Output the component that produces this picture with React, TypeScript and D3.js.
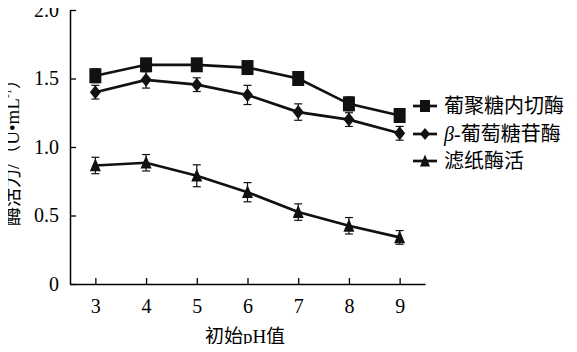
import React, { useEffect, useRef } from 'react';
import * as d3 from 'd3';

const phValues = [3, 4, 5, 6, 7, 8, 9];
const yTicks = [0, 0.5, 1.0, 1.5, 2.0];

const endoglucanase = [1.52, 1.6, 1.6, 1.58, 1.5, 1.315, 1.23];
const endoglucanaseErr = [0.05, 0.04, 0.03, 0.03, 0.05, 0.05, 0.05];
const betaGlucosidase = [1.4, 1.49, 1.455, 1.38, 1.255, 1.2, 1.1];
const betaGlucosidaseErr = [0.05, 0.06, 0.05, 0.07, 0.06, 0.05, 0.05];
const filterPaper = [0.865, 0.885, 0.79, 0.67, 0.525, 0.425, 0.34];
const filterPaperErr = [0.06, 0.06, 0.08, 0.07, 0.06, 0.06, 0.05];

const seriesNames = ['葡聚糖内切酶', 'β-葡萄糖苷酶', '滤纸酶活'];

const FONT = '"Liberation Serif", "Times New Roman", "Noto Sans CJK SC", serif';

type Shape = 'square' | 'diamond' | 'triangle';

// w, h = marker width / height in px
const markerPath = (shape: Shape, w: number, h: number) => {
  if (shape === 'square') return `M${-w / 2},${-h / 2}H${w / 2}V${h / 2}H${-w / 2}Z`;
  if (shape === 'diamond') return `M0,${-h / 2}L${w / 2},0L0,${h / 2}L${-w / 2},0Z`;
  return `M0,${-h * 0.55}L${w / 2},${h * 0.45}L${-w / 2},${h * 0.45}Z`;
};

const markerSize: Record<Shape, [number, number]> = {
  square: [12, 15],
  diamond: [11, 14],
  triangle: [11, 13],
};

export default function App() {
  const svgRef = useRef<SVGSVGElement>(null);

  useEffect(() => {
    if (!svgRef.current) return;
    const svg = d3.select(svgRef.current);
    svg.selectAll('*').remove();

    const x = d3.scaleLinear().domain([2.5, 9.5]).range([70, 425]);
    const y = d3.scaleLinear().domain([0, 2]).range([284, 10]);

    const series = [
      { name: seriesNames[0], vals: endoglucanase, err: endoglucanaseErr, shape: 'square' as Shape },
      { name: seriesNames[1], vals: betaGlucosidase, err: betaGlucosidaseErr, shape: 'diamond' as Shape },
      { name: seriesNames[2], vals: filterPaper, err: filterPaperErr, shape: 'triangle' as Shape },
    ];

    // axes
    const xAxis = svg.append('g')
      .attr('transform', `translate(0,${y(0)})`)
      .call(d3.axisBottom(x).tickValues(phValues).tickSizeInner(-6).tickSizeOuter(0).tickPadding(15).tickFormat(d3.format('d')));
    xAxis.select('.domain').attr('stroke', '#000').attr('stroke-width', 1.5);
    xAxis.selectAll('line').attr('stroke', '#000').attr('stroke-width', 1.3);
    xAxis.selectAll('text').attr('font-family', FONT).attr('font-size', 20).attr('fill', '#000');

    const yAxis = svg.append('g')
      .attr('transform', `translate(${x(2.5)},0)`)
      .call(d3.axisLeft(y).tickValues(yTicks).tickSizeInner(-6).tickSizeOuter(0).tickPadding(11)
        .tickFormat(d => (d === 0 ? '0' : d3.format('.1f')(d as number))));
    yAxis.select('.domain').attr('stroke', '#000').attr('stroke-width', 1.5);
    yAxis.selectAll('line').attr('stroke', '#000').attr('stroke-width', 1.3);
    yAxis.selectAll('text').attr('font-family', FONT).attr('font-size', 20).attr('fill', '#000');

    const line = d3.line<number>().x((_, i) => x(phValues[i])).y(d => y(d));

    series.forEach(s => {
      svg.append('path')
        .datum(s.vals)
        .attr('fill', 'none')
        .attr('stroke', '#111')
        .attr('stroke-width', 2.7)
        .attr('d', line);

      const g = svg.append('g');
      const [mw, mh] = markerSize[s.shape];
      s.vals.forEach((v, i) => {
        const cx = x(phValues[i]);
        const top = y(v + s.err[i]);
        const bot = y(v - s.err[i]);
        g.append('line').attr('x1', cx).attr('x2', cx).attr('y1', top).attr('y2', bot)
          .attr('stroke', '#111').attr('stroke-width', 1.2);
        [top, bot].forEach(yy =>
          g.append('line').attr('x1', cx - 4).attr('x2', cx + 4).attr('y1', yy).attr('y2', yy)
            .attr('stroke', '#111').attr('stroke-width', 1.2));
        g.append('path')
          .attr('transform', `translate(${cx},${y(v)})`)
          .attr('d', markerPath(s.shape, mw, mh))
          .attr('fill', '#111');
      });
    });

    // legend
    const legend = svg.append('g').attr('transform', 'translate(413,0)');
    const rowY = [106, 134, 161];
    series.forEach((s, i) => {
      const ly = rowY[i];
      legend.append('line').attr('x1', 0).attr('x2', 24).attr('y1', ly).attr('y2', ly)
        .attr('stroke', '#111').attr('stroke-width', 2.7);
      legend.append('path').attr('transform', `translate(12,${ly})`)
        .attr('d', markerPath(s.shape, 10, 12)).attr('fill', '#111');
      const t = legend.append('text').attr('x', 31).attr('y', ly + 7)
        .attr('font-family', FONT).attr('font-size', 20).attr('fill', '#000');
      if (s.name.startsWith('β')) {
        t.append('tspan').attr('font-style', 'italic').text('β');
        t.append('tspan').text(s.name.slice(1));
      } else {
        t.text(s.name);
      }
    });

    // axis titles
    svg.append('text')
      .attr('x', 245).attr('y', 343)
      .attr('text-anchor', 'middle')
      .attr('font-family', FONT).attr('font-size', 19).attr('fill', '#000')
      .text('初始pH值');

    const yt = svg.append('text')
      .attr('transform', 'translate(19,148) rotate(-90)')
      .attr('text-anchor', 'middle')
      .attr('font-family', FONT).attr('font-size', 19).attr('fill', '#000');
    yt.append('tspan').text('酶活力/（U•mL');
    yt.append('tspan').attr('font-size', 11).attr('dy', -8).text('-1');
    yt.append('tspan').attr('dy', 8).text('）');
  }, []);

  return (
    <div style={{ margin: -8, width: 577, height: 352, background: '#fff' }}>
      <svg ref={svgRef} width={577} height={352} style={{ display: 'block' }} />
    </div>
  );
}
